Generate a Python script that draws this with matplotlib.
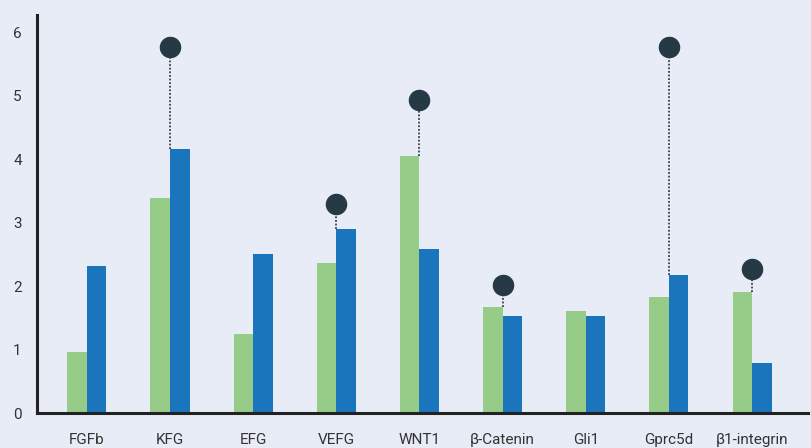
import matplotlib
matplotlib.use("Agg")
import matplotlib.pyplot as plt
import numpy as np

categories = ["FGFb", "KFG", "EFG", "VEFG", "WNT1", "β-Catenin", "Gli1", "Gprc5d", "β1-integrin"]
green_vals = [0.96, 3.38, 1.24, 2.37, 4.05, 1.67, 1.61, 1.83, 1.91]
blue_vals = [2.31, 4.16, 2.50, 2.90, 2.58, 1.53, 1.53, 2.17, 0.79]
# marker values (None where no marker)
dot_vals = [None, 5.76, None, 3.29, 4.93, 2.02, None, 5.76, 2.27]

BG = "#e8ecf6"
GREEN = "#96cc88"
BLUE = "#1b75bc"
DOT = "#263a45"
TXT = "#333333"

plt.rcParams['font.family'] = ['Roboto', 'DejaVu Sans']

fig = plt.figure(figsize=(8.11, 4.48), dpi=100, facecolor=BG)
ax = fig.add_axes([0.0456, 0.078, 0.9504, 0.8885])
ax.set_facecolor(BG)

x = np.arange(len(categories))
w = 0.235
ax.bar(x - w / 2, green_vals, width=w, color=GREEN, zorder=2)
ax.bar(x + w / 2, blue_vals, width=w, color=BLUE, zorder=2)

for i, d in enumerate(dot_vals):
    if d is None:
        continue
    top = max(green_vals[i], blue_vals[i])
    ax.plot([x[i], x[i]], [top, d], linestyle=(0, (1, 1)), color="#3a3f48",
            linewidth=1.3, zorder=3)
    ax.plot(x[i], d, marker="o", markersize=15.5, color=DOT, zorder=4,
            markeredgewidth=0)

ax.set_xlim(-0.6, 8.67)
ax.set_ylim(0, 6.27)
ax.set_yticks(range(0, 7))
ax.set_xticks(x)
ax.set_xticklabels(categories)

ax.tick_params(axis="both", length=0, labelsize=11, colors=TXT)
ax.tick_params(axis="x", pad=14)
ax.tick_params(axis="y", pad=11)

for s in ["top", "right"]:
    ax.spines[s].set_visible(False)
for s in ["left", "bottom"]:
    ax.spines[s].set_color("#222222")
    ax.spines[s].set_linewidth(2.2)
ax.spines["bottom"].set_zorder(5)

fig.savefig("out.png", dpi=100, facecolor=BG)
